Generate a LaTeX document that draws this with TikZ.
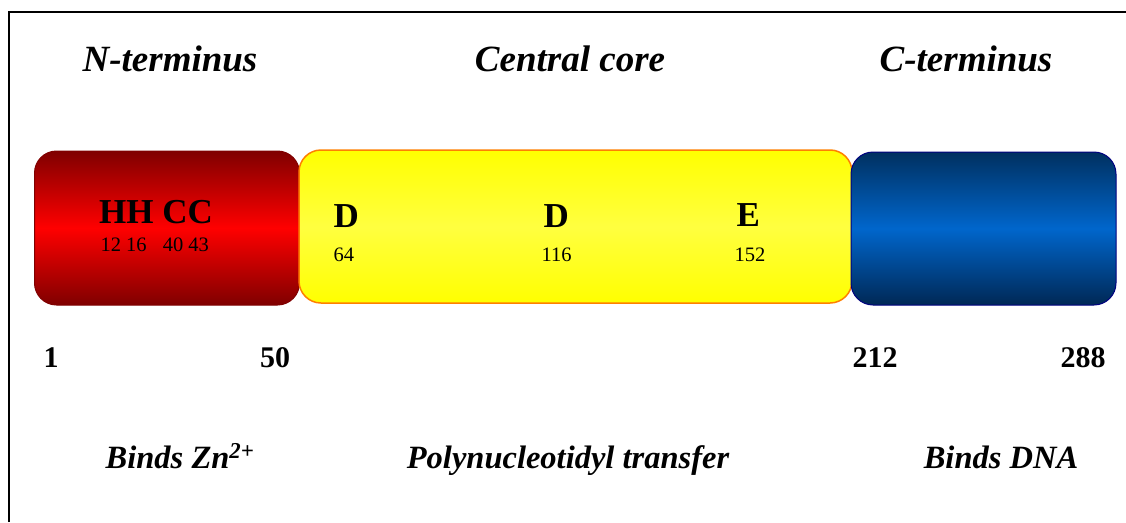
\documentclass[tikz,border=0pt]{standalone}
\usepackage{fontspec}
\setmainfont{Liberation Serif}
\begin{document}
\begin{tikzpicture}[x=1pt,y=-1pt,
  domainbox/.style={rounded corners=22pt, inner sep=0pt, line width=1pt},
  titletext/.style={anchor=base, font=\fontsize{37}{42}\selectfont\bfseries\itshape},
  restext/.style={anchor=base west, font=\fontsize{35}{40}\selectfont\bfseries},
  posnum/.style={anchor=base west, font=\fontsize{20.5}{23}\selectfont},
  bndnum/.style={anchor=base, font=\fontsize{30}{34}\selectfont\bfseries},
  functext/.style={anchor=base, font=\fontsize{32.5}{37}\selectfont\bfseries\itshape}]
\useasboundingbox (0,0) rectangle (1126,522);
\fill[white] (0,0) rectangle (1126,522);
\draw[line width=1.5pt] (9,522) -- (9,12) -- (1126,12);

% titles
\node[titletext] (tN) at (170,71) {N-terminus};
\node[titletext] (tC) at (570,71) {Central core};
\node[titletext] (tT) at (966,71) {C-terminus};

% domains
\node[domainbox, draw=red!50!black, top color=red!50!black, bottom color=red!50!black, middle color=red,
  minimum width=265pt, minimum height=154pt] (nbox) at (167,228) {};
\node[domainbox, draw=orange, line width=1.5pt, top color=yellow, bottom color=yellow, middle color=yellow!75!white,
  minimum width=553pt, minimum height=153pt] (cbox) at (575.5,226.5) {};
\node[domainbox, draw=blue!50!black, top color={rgb,255:red,0;green,48;blue,96}, bottom color={rgb,255:red,0;green,40;blue,85},
  middle color={rgb,255:red,0;green,102;blue,204},
  minimum width=265pt, minimum height=153pt] (cbbox) at (983.5,228.5) {};

% residues
\node[anchor=base, font=\fontsize{35}{40}\selectfont\bfseries] (hhcc) at (156,223) {HH CC};
\node[posnum] (hhccn) at (97,251) {12 16\hspace{11pt} 40 43};
\node[restext] (d1) at (330,227) {D};
\node[posnum] (d1n) at (330,261) {64};
\node[restext] (d2) at (540,227) {D};
\node[posnum] (d2n) at (538,261) {116};
\node[restext] (e1) at (733,226) {E};
\node[posnum] (e1n) at (731,261) {152};

% boundaries
\node[bndnum] (b1) at (51,367) {1};
\node[bndnum] (b50) at (275,367) {50};
\node[bndnum] (b212) at (875,367) {212};
\node[bndnum] (b288) at (1083,367) {288};

% functions
\node[functext] (fN) at (180,468) {Binds Zn\textsuperscript{2+}};
\node[functext] (fC) at (568,468) {Polynucleotidyl transfer};
\node[functext] (fT) at (1001,468) {Binds DNA};
\end{tikzpicture}
\end{document}
